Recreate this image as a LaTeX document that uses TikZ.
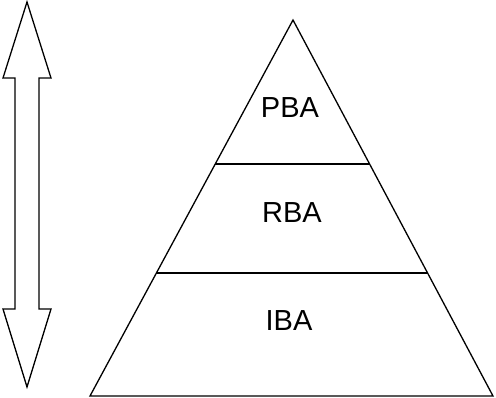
\documentclass[tikz,border=0pt]{standalone}
\usepackage{fontspec}
\setmainfont{Liberation Sans}
\usetikzlibrary{calc}
\begin{document}
\begin{tikzpicture}[x=1pt,y=-1pt,
  outline/.style={draw=black,line width=1.3pt,line join=miter},
  sep/.style={draw=black,line width=1.2pt},
  lbl/.style={inner sep=0pt,font=\fontsize{29}{34}\selectfont}]
\useasboundingbox (0,0) rectangle (496,398);
% double arrow
\draw[outline] (27,2) -- (51,78) -- (39,78) -- (39,309) -- (51,309) -- (27,387)
  -- (3,309) -- (15,309) -- (15,78) -- (3,78) -- cycle;
% pyramid
\coordinate (apex) at (293,20);
\coordinate (bl) at (90,396);
\coordinate (br) at (493,396);
\draw[outline] (apex) -- (br) -- (bl) -- cycle;
\coordinate (l1a) at ($(apex)!{144/376}!(bl)$);
\coordinate (l1b) at ($(apex)!{144/376}!(br)$);
\coordinate (l2a) at ($(apex)!{253/376}!(bl)$);
\coordinate (l2b) at ($(apex)!{253/376}!(br)$);
\draw[sep] (l1a) -- (l1b);
\draw[sep] (l2a) -- (l2b);
\node[lbl] (pba) at (290,108) {PBA};
\node[lbl] (rba) at (292,213) {RBA};
\node[lbl] (iba) at (289,321) {IBA};
\end{tikzpicture}
\end{document}
